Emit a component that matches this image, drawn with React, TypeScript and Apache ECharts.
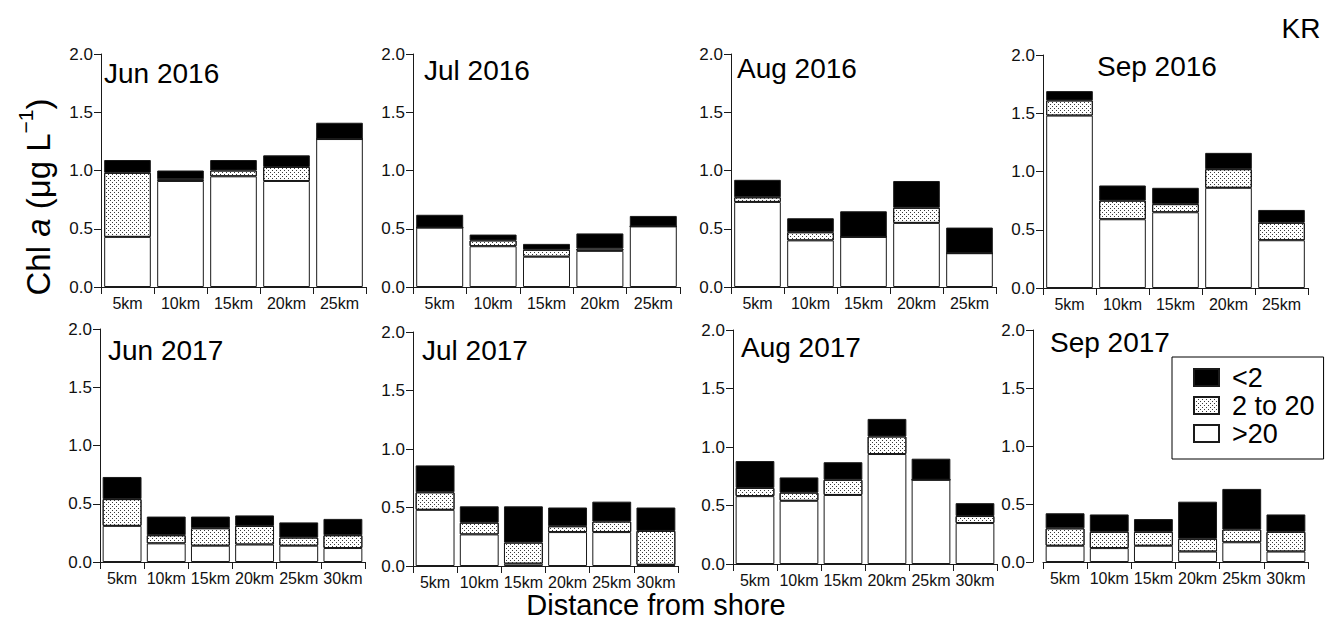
import React, { useEffect, useRef } from "react";
import * as echarts from "echarts";

const FONT = '"Liberation Sans", Arial, Helvetica, sans-serif';

// Categories (distance from shore)
const CATS_2016 = ["5km", "10km", "15km", "20km", "25km"];
const CATS_2017 = ["5km", "10km", "15km", "20km", "25km", "30km"];
const Y_TICKS = [0, 0.5, 1.0, 1.5, 2.0];

// Size-fraction Chl a (μg L-1): >20, 2 to 20, <2 (segment heights)
const JUN16_GT20 = [0.43, 0.91, 0.95, 0.91, 1.27];
const JUN16_MID = [0.55, 0.015, 0.05, 0.12, 0];
const JUN16_LT2 = [0.11, 0.075, 0.09, 0.1, 0.14];

const JUL16_GT20 = [0.51, 0.35, 0.26, 0.31, 0.52];
const JUL16_MID = [0, 0.05, 0.06, 0.02, 0];
const JUL16_LT2 = [0.11, 0.05, 0.05, 0.13, 0.09];

const AUG16_GT20 = [0.73, 0.4, 0.43, 0.55, 0.29];
const AUG16_MID = [0.04, 0.07, 0, 0.13, 0];
const AUG16_LT2 = [0.15, 0.12, 0.22, 0.23, 0.22];

const SEP16_GT20 = [1.48, 0.59, 0.65, 0.86, 0.41];
const SEP16_MID = [0.13, 0.16, 0.07, 0.16, 0.15];
const SEP16_LT2 = [0.08, 0.13, 0.14, 0.14, 0.11];

const JUN17_GT20 = [0.31, 0.16, 0.14, 0.15, 0.14, 0.12];
const JUN17_MID = [0.23, 0.07, 0.15, 0.16, 0.07, 0.11];
const JUN17_LT2 = [0.19, 0.16, 0.1, 0.09, 0.13, 0.14];

const JUL17_GT20 = [0.48, 0.27, 0.02, 0.29, 0.29, 0.01];
const JUL17_MID = [0.15, 0.1, 0.18, 0.05, 0.09, 0.29];
const JUL17_LT2 = [0.23, 0.14, 0.31, 0.16, 0.17, 0.2];

const AUG17_GT20 = [0.58, 0.54, 0.59, 0.94, 0.72, 0.35];
const AUG17_MID = [0.07, 0.07, 0.13, 0.15, 0, 0.06];
const AUG17_LT2 = [0.23, 0.13, 0.15, 0.15, 0.18, 0.11];

const SEP17_GT20 = [0.14, 0.12, 0.14, 0.09, 0.17, 0.09];
const SEP17_MID = [0.15, 0.14, 0.12, 0.11, 0.11, 0.17];
const SEP17_LT2 = [0.13, 0.15, 0.11, 0.32, 0.35, 0.15];

const PANELS = [
  { title: "Jun 2016", cats: CATS_2016, gt20: JUN16_GT20, mid: JUN16_MID, lt2: JUN16_LT2 },
  { title: "Jul 2016", cats: CATS_2016, gt20: JUL16_GT20, mid: JUL16_MID, lt2: JUL16_LT2 },
  { title: "Aug 2016", cats: CATS_2016, gt20: AUG16_GT20, mid: AUG16_MID, lt2: AUG16_LT2 },
  { title: "Sep 2016", cats: CATS_2016, gt20: SEP16_GT20, mid: SEP16_MID, lt2: SEP16_LT2 },
  { title: "Jun 2017", cats: CATS_2017, gt20: JUN17_GT20, mid: JUN17_MID, lt2: JUN17_LT2 },
  { title: "Jul 2017", cats: CATS_2017, gt20: JUL17_GT20, mid: JUL17_MID, lt2: JUL17_LT2 },
  { title: "Aug 2017", cats: CATS_2017, gt20: AUG17_GT20, mid: AUG17_MID, lt2: AUG17_LT2 },
  { title: "Sep 2017", cats: CATS_2017, gt20: SEP17_GT20, mid: SEP17_MID, lt2: SEP17_LT2 },
];

// Layout (pixels)
const LAYOUT = [
  { left: 101, top: 54, width: 265, height: 233, yOff: 0, tx: 104, ty: 73 },
  { left: 413, top: 54, width: 267, height: 233, yOff: 0, tx: 424, ty: 70 },
  { left: 731, top: 54, width: 265, height: 233, yOff: 0, tx: 737, ty: 68 },
  { left: 1043, top: 55, width: 265, height: 233, yOff: 0, tx: 1097, ty: 66 },
  { left: 100, top: 329, width: 265, height: 233, yOff: 0, tx: 108, ty: 350 },
  { left: 413, top: 332, width: 265, height: 234, yOff: 0, tx: 422, ty: 350 },
  { left: 733, top: 330, width: 264, height: 234, yOff: 0, tx: 741, ty: 347 },
  { left: 1043, top: 330, width: 265, height: 232, yOff: 10, tx: 1050, ty: 342 },
];

const LINE = "#1a1a1a";

const DOT_DECAL = {
  symbol: "rect",
  symbolSize: 1,
  color: "#3a3a3a",
  backgroundColor: "#ffffff",
  dashArrayX: [
    [1, 3],
    [0, 2, 1, 1],
  ],
  dashArrayY: [1, 1],
  rotation: 0,
};

export default function App() {
  const ref = useRef<HTMLDivElement>(null);

  useEffect(() => {
    if (!ref.current) return;
    const chart = echarts.init(ref.current, undefined, { renderer: "svg" });

    const grids: any[] = [];
    const xAxes: any[] = [];
    const yAxes: any[] = [];
    const series: any[] = [];
    const graphics: any[] = [];

    PANELS.forEach((p, i) => {
      const L = LAYOUT[i];
      grids.push({ left: L.left, top: L.top, width: L.width, height: L.height, containLabel: false });
      xAxes.push({
        type: "category",
        gridIndex: i,
        data: p.cats,
        boundaryGap: true,
        axisLine: { show: true, onZero: false, lineStyle: { color: LINE, width: 1 } },
        axisTick: { show: true, length: 7, interval: 0, alignWithLabel: false, lineStyle: { color: LINE, width: 1 } },
        axisLabel: { interval: 0, fontSize: 16, margin: 8, color: "#111", fontFamily: FONT },
        splitLine: { show: false },
      });
      yAxes.push({
        type: "value",
        gridIndex: i,
        min: Y_TICKS[0],
        max: Y_TICKS[Y_TICKS.length - 1],
        interval: 0.5,
        offset: L.yOff,
        axisLine: { show: true, lineStyle: { color: LINE, width: 1 } },
        axisTick: { show: true, length: 7, lineStyle: { color: LINE, width: 1 } },
        axisLabel: {
          fontSize: 17,
          margin: 8,
          color: "#111",
          fontFamily: FONT,
          formatter: (v: number) => v.toFixed(1),
        },
        splitLine: { show: false },
      });
      const common = {
        type: "bar",
        xAxisIndex: i,
        yAxisIndex: i,
        stack: "s" + i,
        barWidth: "88%",
      };
      series.push({
        ...common,
        name: ">20",
        data: p.gt20,
        itemStyle: { color: "#ffffff", borderColor: LINE, borderWidth: 1 },
      });
      series.push({
        ...common,
        name: "2 to 20",
        data: p.mid,
        itemStyle: { color: "#ffffff", borderColor: LINE, borderWidth: 1, decal: DOT_DECAL },
      });
      series.push({
        ...common,
        name: "<2",
        data: p.lt2,
        itemStyle: { color: "#000000", borderColor: LINE, borderWidth: 1 },
      });
      graphics.push({
        type: "text",
        x: L.tx,
        y: L.ty,
        style: {
          text: p.title,
          fontSize: 28,
          fontFamily: FONT,
          fill: "#000",
          textAlign: "left",
          textVerticalAlign: "middle",
        },
      });
    });

    graphics.push({
      type: "text",
      x: 35,
      y: 197,
      rotation: Math.PI / 2,
      style: {
        text: "{n|Chl }{i|a}{n| (μg L}{s|−1}{n|)}",
        fontFamily: FONT,
        fill: "#000",
        textAlign: "center",
        textVerticalAlign: "middle",
        rich: {
          n: { fontSize: 33, fontFamily: FONT, lineHeight: 40, verticalAlign: "bottom" },
          i: { fontSize: 33, fontFamily: FONT, fontStyle: "italic", lineHeight: 40, verticalAlign: "bottom" },
          s: { fontSize: 21, fontFamily: FONT, lineHeight: 40, verticalAlign: "top" },
        },
      },
    });
    graphics.push({
      type: "text",
      x: 656,
      y: 605,
      style: {
        text: "Distance from shore",
        fontSize: 29,
        fontFamily: FONT,
        fill: "#000",
        textAlign: "center",
        textVerticalAlign: "middle",
      },
    });
    graphics.push({
      type: "text",
      x: 1301,
      y: 28,
      style: {
        text: "KR",
        fontSize: 28,
        fontFamily: FONT,
        fill: "#000",
        textAlign: "center",
        textVerticalAlign: "middle",
      },
    });

    chart.setOption({
      animation: false,
      backgroundColor: "#ffffff",
      grid: grids,
      xAxis: xAxes,
      yAxis: yAxes,
      series,
      graphic: graphics,
      legend: {
        orient: "vertical",
        left: 1172,
        top: 357,
        padding: [7, 9, 12, 21],
        itemWidth: 25,
        itemHeight: 17,
        itemGap: 1,
        icon: "rect",
        selectedMode: false,
        borderColor: "#000",
        borderWidth: 1,
        backgroundColor: "#ffffff",
        data: ["<2", "2 to 20", ">20"],
        textStyle: { fontSize: 27, lineHeight: 27, color: "#000", fontFamily: FONT, padding: [0, 0, 0, 8] },
      },
    });

    return () => chart.dispose();
  }, []);

  return (
    <div
      ref={ref}
      style={{ position: "fixed", left: 0, top: 0, width: 1326, height: 624, background: "#fff" }}
    />
  );
}
